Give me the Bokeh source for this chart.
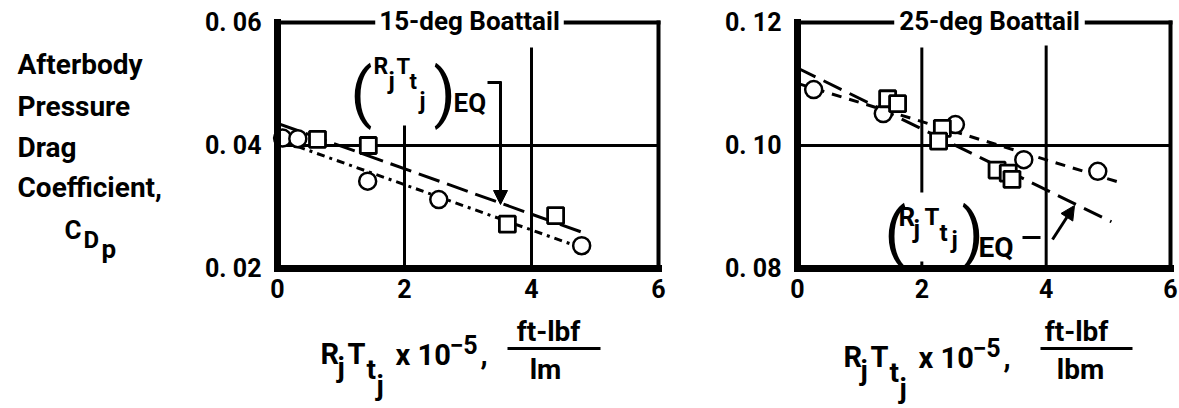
from bokeh.plotting import figure
from bokeh.layouts import row
from bokeh.models import Range1d, LinearAxis, FixedTicker, Label, Arrow, NormalHead
from bokeh.embed import file_html
from bokeh.resources import INLINE

FONT = "Roboto"

# ---- shared x axis ----
x_ticks = [0, 2, 4, 6]
x_tick_labels = ["0", "2", "4", "6"]

# ---- 15-deg boattail ----
y15_ticks = [0.02, 0.04, 0.06]
y15_tick_labels = ["0. 02", "0. 04", "0. 06"]
c15_x = [0.08, 0.32, 1.42, 2.54, 4.79]
c15_y = [0.0412, 0.0411, 0.0342, 0.0312, 0.0237]
s15_x = [0.63, 1.43, 3.62, 4.38]
s15_y = [0.0410, 0.0400, 0.0272, 0.0286]
fair15_sq_x = [0.0, 4.85]
fair15_sq_y = [0.0436, 0.0257]
fair15_c_x = [0.0, 4.75]
fair15_c_y = [0.0410, 0.0235]

# ---- 25-deg boattail ----
y25_ticks = [0.08, 0.10, 0.12]
y25_tick_labels = ["0. 08", "0. 10", "0. 12"]
c25_x = [0.26, 1.38, 2.54, 3.64, 4.83]
c25_y = [0.1091, 0.1052, 0.1034, 0.0977, 0.0958]
s25_x = [1.45, 1.61, 2.33, 2.27, 3.21, 3.39, 3.45]
s25_y = [0.1076, 0.1068, 0.1028, 0.1007, 0.0960, 0.0955, 0.0945]
fair25_sq_x = [0.0, 5.05]
fair25_sq_y = [0.1126, 0.0876]
fair25_c_x = [0.0, 5.15]
fair25_c_y = [0.1101, 0.0941]

HEIGHT = 408
PLOT_TOP = 22
PLOT_BOTTOM = 268
TEXT_SHIFT = -11  # baseline correction for annotation text


def make_panel(page_left, width, plot_left, plot_right, y_lo, y_hi, y_ticks, y_labels):
    """A canvas-filling figure whose data box [0, 6] x [y_lo, y_hi] sits at the
    given page pixel box; axes are pinned to the box edges."""
    ppx = (plot_right - plot_left) / 6.0
    ppy = (PLOT_BOTTOM - PLOT_TOP) / (y_hi - y_lo)
    xr = Range1d((page_left - plot_left) / ppx, (page_left + width - plot_left) / ppx)
    yr = Range1d(y_lo - (HEIGHT - PLOT_BOTTOM) / ppy, y_hi + PLOT_TOP / ppy)
    p = figure(width=width, height=HEIGHT, min_border=0, x_range=xr, y_range=yr,
               x_axis_location=None, y_axis_location=None, title=None,
               toolbar_location=None, output_backend="svg")
    p.grid.visible = False
    p.outline_line_color = None
    p.background_fill_color = "white"
    p.border_fill_color = "white"

    common = dict(axis_line_width=7, axis_line_color="black", axis_line_cap="square",
                  major_tick_line_color=None, minor_tick_line_color=None,
                  major_tick_in=0, major_tick_out=0,
                  major_label_text_font=FONT, major_label_text_font_style="bold",
                  major_label_text_font_size="25px", major_label_text_color="black")
    yax = LinearAxis(ticker=FixedTicker(ticks=y_ticks), fixed_location=0,
                     bounds=(y_lo, y_hi),
                     major_label_overrides=dict(zip(y_ticks, y_labels)),
                     major_label_standoff=16, **common)
    xax = LinearAxis(ticker=FixedTicker(ticks=x_ticks), fixed_location=y_lo,
                     bounds=(0, 6),
                     major_label_overrides=dict(zip(x_ticks, x_tick_labels)),
                     major_label_standoff=10, **common)
    p.add_layout(yax, "left")
    p.add_layout(xax, "below")

    # top and right edges of the plotting box
    p.segment(x0=[0, 6], y0=[y_hi, y_hi], x1=[6, 6], y1=[y_hi, y_lo],
              line_color="black", line_width=4, line_cap="square")

    def X(px):
        return (px - plot_left) / ppx

    def Y(py):
        return y_hi - (py - PLOT_TOP) / ppy

    return p, X, Y


def txt(p, X, Y, px, py, s, size, bold=True, align="left", **kw):
    p.add_layout(Label(x=X(px), y=Y(py + TEXT_SHIFT), text=s, text_font=FONT,
                       text_font_style="bold" if bold else "normal",
                       text_font_size=f"{size}px", text_color="black",
                       text_align=align, text_baseline="alphabetic", **kw))


def seg(p, X, Y, x0, y0, x1, y1, w=3):
    p.segment(x0=[X(x0)], y0=[Y(y0)], x1=[X(x1)], y1=[Y(y1)],
              line_width=w, line_color="black")


def rt_group(p, X, Y, pieces):
    for px, py, s, size, bold in pieces:
        txt(p, X, Y, px, py, s, size, bold)


def x_label(p, X, Y, fl, dx, dy, num, den, num_c, den_c, bar0, bar1):
    pieces = [(43, 364, "R", 29), (60, 378, "j", 28), (70, 364, "T", 29),
              (89, 380, "t", 28), (99, 396, "j", 28), (118, 365, "x", 29),
              (140, 365, "10", 29), (172, 355, "\u22125", 25), (203, 365, ",", 29)]
    for rel, py, s, size in pieces:
        txt(p, X, Y, fl + rel + dx, py + dy, s, size)
    txt(p, X, Y, fl + num_c, 342, num, 28, align="center")
    txt(p, X, Y, fl + den_c, 380, den, 28, align="center")
    seg(p, X, Y, fl + bar0, 348, fl + bar1, 348, w=3)


def draw_data(p, cx, cy, sx, sy, fsx, fsy, fcx, fcy, sq_dash, c_dash):
    p.line(fsx, fsy, line_color="black", line_width=3, line_dash=sq_dash)
    p.line(fcx, fcy, line_color="black", line_width=3, line_dash=c_dash)
    p.scatter(cx, cy, marker="circle", size=17, fill_color="white",
              line_color="black", line_width=2.5)
    p.scatter(sx, sy, marker="square", size=16, fill_color="white",
              line_color="black", line_width=2.8)


# ================= 15-deg panel =================
p1, X1, Y1 = make_panel(0, 700, 277, 658, 0.02, 0.06, y15_ticks, y15_tick_labels)

# partial grid lines
p1.segment(x0=[x_ticks[1], x_ticks[2]], y0=[Y1(125), Y1(47)],
           x1=[x_ticks[1], x_ticks[2]], y1=[y15_ticks[0]] * 2,
           line_color="black", line_width=3)
p1.segment(x0=[x_ticks[0]], y0=[y15_ticks[1]], x1=[x_ticks[-1]], y1=[y15_ticks[1]],
           line_color="black", line_width=3)

draw_data(p1, c15_x, c15_y, s15_x, s15_y, fair15_sq_x, fair15_sq_y,
          fair15_c_x, fair15_c_y, "22 8", "8 5 3 5")

p1.add_layout(Label(x=X1(469), y=Y1(31 + TEXT_SHIFT), text="15-deg Boattail", text_font=FONT,
                    text_font_style="bold", text_font_size="26px", text_color="black",
                    text_align="center", text_baseline="alphabetic",
                    background_fill_color="white", padding=4))

rt_group(p1, X1, Y1, [(350, 104, "(", 64, False), (373, 77, "R", 23, True),
                      (388, 91, "j", 24, True), (396, 77, "T", 22, True),
                      (409, 92, "t", 22, True), (419, 112, "j", 23, True),
                      (433, 104, ")", 64, False), (453, 113, "EQ", 26, True)])
seg(p1, X1, Y1, 487, 82, 501, 82, w=3)
p1.add_layout(Arrow(end=NormalHead(size=14, fill_color="black", line_color="black", line_width=1),
                    x_start=X1(500), y_start=Y1(81), x_end=X1(500), y_end=Y1(204),
                    line_width=3, line_color="black"))

# y axis title
for py, s in [(75, "Afterbody"), (117, "Pressure"), (158, "Drag"), (198, "Coefficient,")]:
    txt(p1, X1, Y1, 17, py, s, 28)
txt(p1, X1, Y1, 64, 240, "C", 26)
txt(p1, X1, Y1, 83, 250, "D", 24)
txt(p1, X1, Y1, 101, 259, "p", 26)

x_label(p1, X1, Y1, 277, 0, 0, "ft-lbf", "lm", 271, 268, 230, 323)

# ================= 25-deg panel =================
p2, X2, Y2 = make_panel(700, 479, 797, 1170, 0.08, 0.12, y25_ticks, y25_tick_labels)

p2.segment(x0=[x_ticks[1], x_ticks[1], x_ticks[2]], y0=[Y2(47), Y2(261), Y2(45)],
           x1=[x_ticks[1], x_ticks[1], x_ticks[2]], y1=[Y2(192), y25_ticks[0], y25_ticks[0]],
           line_color="black", line_width=3)
p2.segment(x0=[x_ticks[0]], y0=[y25_ticks[1]], x1=[x_ticks[-1]], y1=[y25_ticks[1]],
           line_color="black", line_width=3)

draw_data(p2, c25_x, c25_y, s25_x, s25_y, fair25_sq_x, fair25_sq_y,
          fair25_c_x, fair25_c_y, "20 9", "10 8")

p2.add_layout(Label(x=X2(989), y=Y2(31 + TEXT_SHIFT), text="25-deg Boattail", text_font=FONT,
                    text_font_style="bold", text_font_size="26px", text_color="black",
                    text_align="center", text_baseline="alphabetic",
                    background_fill_color="white", padding=5))

rt_group(p2, X2, Y2, [(884, 244, "(", 64, False), (898, 227, "R", 26, True),
                      (913, 240, "j", 25, True), (924, 227, "T", 24, True),
                      (939, 243, "t", 24, True), (951, 250, "j", 24, True),
                      (961, 244, ")", 64, False), (978, 258, "EQ", 28, True)])
seg(p2, X2, Y2, 1022, 237, 1040, 237, w=3)
p2.add_layout(Arrow(end=NormalHead(size=14, fill_color="black", line_color="black", line_width=1),
                    x_start=X2(1052), y_start=Y2(239), x_end=X2(1074), y_end=Y2(205),
                    line_width=3, line_color="black"))

x_label(p2, X2, Y2, 797, 3, 3, "ft-lbf", "lbm", 279, 283, 243, 335)

layout = row(p1, p2)
open("out.html", "w").write(file_html(layout, INLINE))
